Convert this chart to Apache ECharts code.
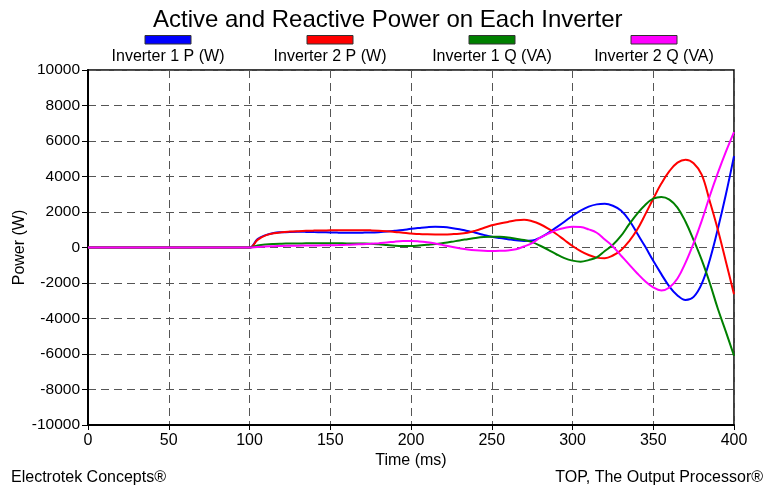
<!DOCTYPE html>
<html>
<head>
<meta charset="utf-8">
<script src="https://cdn.jsdelivr.net/npm/echarts@6/dist/echarts.min.js"></script>
<style>
html,body{margin:0;padding:0;background:#fff;}
#chart{width:765px;height:491px;}
</style>
</head>
<body>
<div id="chart"></div>
<script>
// ---- data ----
var chartTitle = 'Active and Reactive Power on Each Inverter';
var seriesNames = ['Inverter 1 P (W)', 'Inverter 2 P (W)', 'Inverter 1 Q (VA)', 'Inverter 2 Q (VA)'];
var seriesColors = ['#0000ff', '#ff0000', '#008000', '#ff00ff'];
var timeMs = [0, 100, 105, 110, 115, 120, 125, 130, 135, 140, 145, 150, 155, 160, 165, 170, 175, 180, 185, 190, 195,
  200, 205, 210, 215, 220, 225, 230, 235, 240, 245, 250, 255, 260, 265, 270, 275, 280, 285, 290, 295,
  300, 305, 310, 315, 320, 325, 330, 335, 340, 345, 350, 355, 360, 365, 370, 375, 380, 385, 390, 395, 400];
var inv1P = [0, 0, 480, 700, 820, 860, 880, 885, 880, 870, 860, 845, 838, 835, 835, 838, 845, 865, 895, 940, 990,
  1050, 1100, 1145, 1170, 1150, 1100, 1030, 930, 830, 710, 600, 530, 470, 410, 370, 390, 560, 820, 1130, 1450,
  1790, 2080, 2300, 2430, 2460, 2350, 2080, 1550, 800, 50, -750, -1500, -2200, -2700, -2960, -2780, -2050, -700, 1050, 3000, 5150];
var inv2P = [0, 0, 430, 680, 800, 860, 895, 920, 940, 952, 960, 968, 972, 975, 975, 972, 965, 950, 920, 880, 830,
  790, 755, 740, 735, 738, 750, 770, 830, 950, 1100, 1250, 1350, 1440, 1530, 1570, 1480, 1310, 1060, 760, 420,
  85, -200, -420, -570, -600, -450, -150, 350, 1000, 1850, 2750, 3600, 4300, 4780, 4950, 4750, 4100, 2600, 1000, -800, -2640];
var inv1Q = [0, 0, 110, 170, 200, 215, 225, 230, 234, 237, 238, 237, 235, 232, 228, 222, 210, 180, 140, 100, 85,
  85, 110, 150, 190, 250, 320, 400, 470, 540, 590, 610, 600, 560, 490, 420, 300, 100, -130, -380, -600,
  -740, -800, -710, -560, -200, 150, 650, 1300, 1900, 2400, 2750, 2850, 2700, 2250, 1450, 420, -700, -2000, -3450, -4750, -6100];
var inv2Q = [0, 0, 30, 55, 75, 88, 98, 105, 110, 115, 120, 125, 135, 150, 170, 190, 215, 245, 280, 330, 360,
  365, 340, 290, 220, 130, 40, -40, -110, -160, -190, -200, -190, -165, -100, 60, 250, 550, 780, 980, 1100,
  1170, 1150, 1020, 830, 450, 60, -450, -950, -1450, -1900, -2250, -2420, -2250, -1750, -850, 250, 1500, 2900, 4200, 5400, 6500];
var xTicks = {min: 0, max: 400, interval: 50};
var yTicks = {min: -10000, max: 10000, interval: 2000};
var footerLeft = 'Electrotek Concepts®';
var footerRight = 'TOP, The Output Processor®';

// ---- build ----
function pairs(vals) { return timeMs.map(function (t, i) { return [t, vals[i]]; }); }
var allVals = [inv1P, inv2P, inv1Q, inv2Q];
var FONT = '"Liberation Sans", Arial, sans-serif';

var series = allVals.map(function (vals, i) {
  return {
    name: seriesNames[i], type: 'line', data: pairs(vals), smooth: 0.4,
    showSymbol: false, symbol: 'none', clip: true,
    lineStyle: {color: seriesColors[i], width: 2}, itemStyle: {color: seriesColors[i]},
    z: 3 + i
  };
});

var g = [];
var legendCenters = [168, 330, 492, 654];
seriesNames.forEach(function (n, i) {
  g.push({type: 'rect', shape: {x: legendCenters[i] - 23, y: 35.5, width: 46, height: 8.5},
    style: {fill: seriesColors[i], stroke: '#333', lineWidth: 1}});
  g.push({type: 'text', x: legendCenters[i], y: 57,
    style: {text: n, font: '16px ' + FONT, fill: '#000', textAlign: 'center', textVerticalAlign: 'middle'}});
});
g.push({type: 'text', x: 11, y: 478,
  style: {text: footerLeft, font: '16px ' + FONT, fill: '#000', textAlign: 'left', textVerticalAlign: 'middle'}});
g.push({type: 'text', x: 763, y: 478,
  style: {text: footerRight, font: '16px ' + FONT, fill: '#000', textAlign: 'right', textVerticalAlign: 'middle'}});

var chart = echarts.init(document.getElementById('chart'), null, {renderer: 'canvas'});
chart.setOption({
  animation: false,
  backgroundColor: '#fff',
  title: {text: chartTitle, left: 148, top: 3,
    textStyle: {fontFamily: FONT, fontSize: 24, fontWeight: 'normal', color: '#000'}},
  grid: {left: 88, right: 31, top: 70, bottom: 66, show: true, borderColor: '#000', borderWidth: 1.5,
    backgroundColor: 'transparent', containLabel: false, outerBoundsMode: 'none'},
  xAxis: {
    type: 'value', min: xTicks.min, max: xTicks.max, interval: xTicks.interval,
    name: 'Time (ms)', nameLocation: 'middle', nameGap: 28, nameMoveOverlap: false,
    nameTextStyle: {fontFamily: FONT, fontSize: 16, color: '#000'},
    axisLine: {show: true, onZero: false, lineStyle: {color: '#000', width: 2}},
    axisTick: {show: true, length: 5, lineStyle: {color: '#000', width: 1}},
    axisLabel: {fontFamily: FONT, fontSize: 16, color: '#000', margin: 8, formatter: function (v) { return String(v); }},
    splitLine: {show: true, lineStyle: {color: '#555', width: 1, type: [8, 5]}}
  },
  yAxis: {
    type: 'value', min: yTicks.min, max: yTicks.max, interval: yTicks.interval,
    name: 'Power (W)', nameLocation: 'middle', nameGap: 60, nameMoveOverlap: false,
    nameTextStyle: {fontFamily: FONT, fontSize: 16, color: '#000'},
    axisLine: {show: true, onZero: false, lineStyle: {color: '#000', width: 2}},
    axisTick: {show: true, length: 6, lineStyle: {color: '#000', width: 1}},
    axisLabel: {fontFamily: FONT, fontSize: 15.5, color: '#000', margin: 8, formatter: function (v) { return String(v); }},
    splitLine: {show: true, lineStyle: {color: '#555', width: 1, type: [8, 5]}}
  },
  graphic: g,
  series: series
});
</script>
</body>
</html>
